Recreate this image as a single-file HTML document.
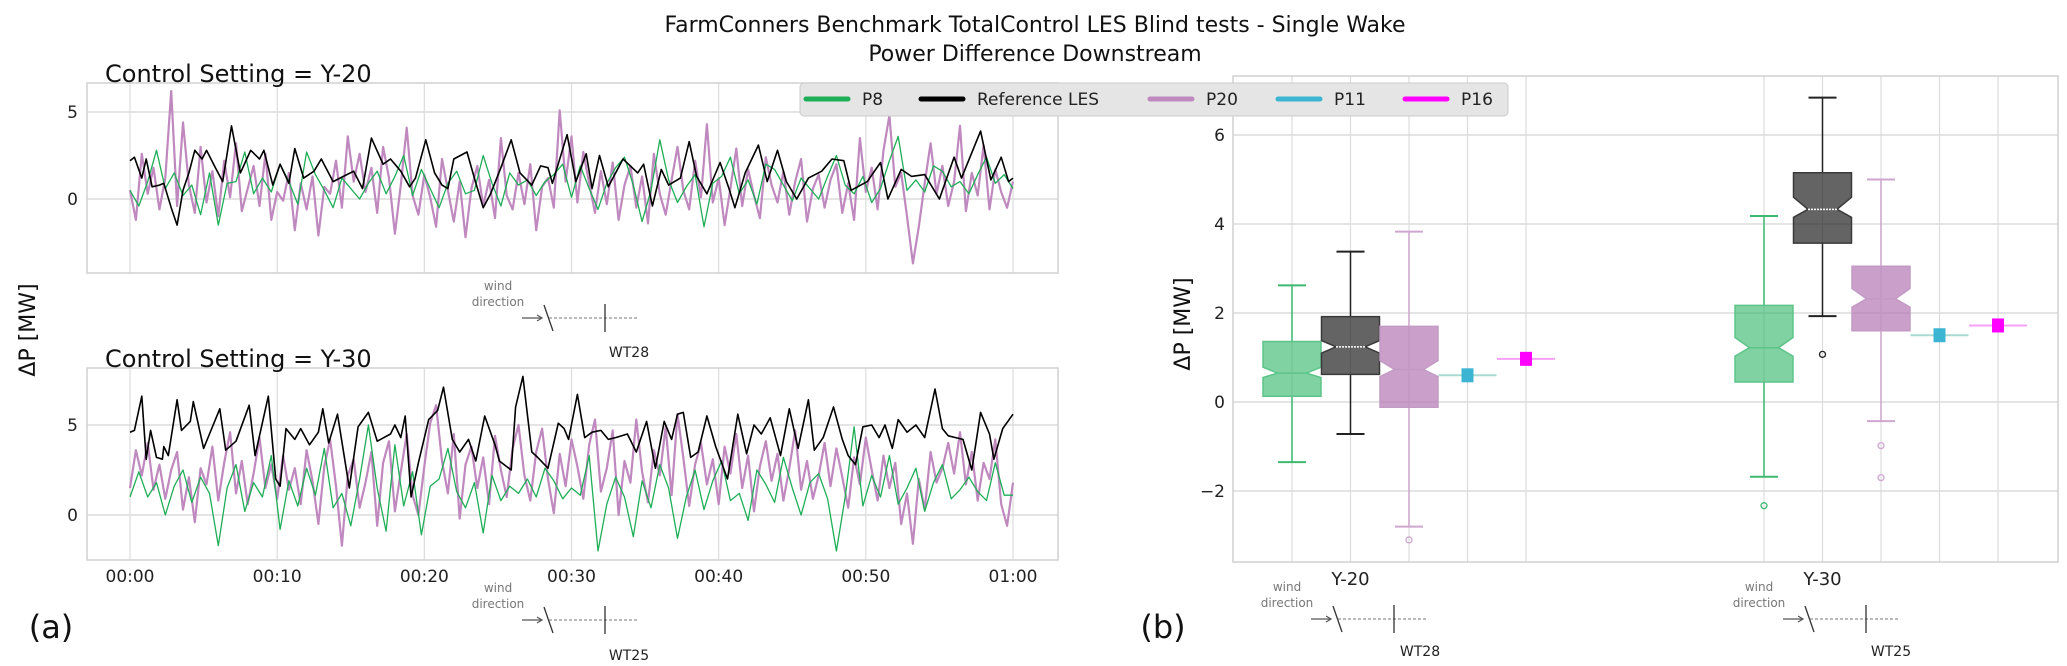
<!DOCTYPE html>
<html><head><meta charset="utf-8">
<style>
html,body{margin:0;padding:0;background:#fff;}
svg{display:block;font-family:"DejaVu Sans","Liberation Sans",sans-serif;}
</style></head>
<body>
<svg id="fig" width="2067" height="666" viewBox="0 0 2067 666" xmlns="http://www.w3.org/2000/svg">
<rect x="0" y="0" width="2067" height="666" fill="#fff"/>
<text x="1035" y="32" font-size="22" text-anchor="middle" fill="#111">FarmConners Benchmark TotalControl LES Blind tests - Single Wake</text>
<text x="1035" y="61" font-size="22" text-anchor="middle" fill="#111">Power Difference Downstream</text>
<g id="left-top"></g>
<g id="left-bot"></g>
<g id="right"></g>
<g id="legend"></g>
<g id="annot"></g>
</svg>
<script>
// ---------- data ----------
const timeTicks = ["00:00","00:10","00:20","00:30","00:40","00:50","01:00"];
const tickMinutes = [0,10,20,30,40,50,60];
const topYTicks = [0,5];
const botYTicks = [0,5];
const boxYTicks = [-2,0,2,4,6];
const boxGroups = ["Y-20","Y-30"];
const seriesNames = ["P8","Reference LES","P20","P11","P16"];

const refY20T = [0,0.3,0.8,1.1,1.5,2,2.3,2.8,3.2,3.6,4,4.4,4.9,5.2,5.8,6.3,6.9,7.5,8.2,8.8,9.1,9.7,10.2,10.8,11.2,11.8,12.5,13,13.8,14.5,15.2,15.8,16.4,17.2,17.7,18.4,19,19.4,20.1,20.7,21.2,21.6,22,22.9,23.4,24,24.5,25.2,25.9,26.5,27.3,27.9,28.4,28.7,29.7,30.3,31,31.4,31.9,32.5,33.5,34.5,34.9,35.5,36.1,36.6,37.4,38,38.5,39.2,40.1,40.7,41.1,41.8,42.7,43.3,44,44.6,45.3,46.1,47,47.7,48.5,49,50.1,51,51.5,52.4,53.1,54,55,56,56.5,57.8,58.5,59.2,59.7,60];
const refY20V = [2.2,2.4,1.2,2.3,0.7,0.8,0.9,-0.5,-1.5,0.5,1.5,2.8,2.3,2.8,1.8,1.0,4.2,1.5,2.8,2.3,2.8,0.8,2.0,0.9,2.9,1.2,1.6,2.3,1.0,1.3,1.6,0.6,3.5,2.0,2.3,1.6,0.7,1.2,3.4,1.5,0.8,0.6,2.3,2.7,1.2,-0.5,0.3,1.8,3.4,1.5,0.8,1.9,1.8,0.9,3.7,1.0,2.6,0.6,2.5,0.7,2.3,1.5,2.0,-0.4,1.7,0.8,1.2,3.3,1.3,0.3,2.1,0.6,-0.5,1.5,3.1,1.0,2.8,1.0,0.0,1.2,1.6,2.3,2.2,0.5,1.0,2.1,0.0,1.7,1.3,1.4,0.0,2.4,1.2,3.9,1.1,2.4,1.0,1.2];
const p8Y20 = [0.5,-0.4,1.0,2.8,0.6,1.5,0.2,0.8,-0.9,1.5,-1.5,0.9,1.0,2.7,0.3,1.2,0.4,2.0,1.0,-0.3,2.7,1.4,0.5,-0.5,1.2,0.6,0.0,0.9,1.6,0.3,1.3,2.5,0.2,1.7,0.6,-0.5,0.9,1.6,0.3,0.5,2.5,0.9,-0.4,1.5,0.8,1.1,0.2,1.0,1.4,2.0,0.1,1.9,0.6,-0.6,0.9,1.8,2.4,0.8,-1.3,0.5,3.4,1.1,-0.2,0.7,1.4,-1.6,0.9,1.3,2.4,0.3,1.1,-0.3,2.0,1.7,0.8,-0.1,1.2,0.6,0.0,1.3,2.5,0.8,0.3,1.3,-0.2,0.6,2.2,3.6,0.5,1.1,0.4,1.9,1.6,0.7,1.0,0.3,1.4,2.4,0.9,1.4,0.6];
const p20Y20 = [0.5,-1.2,2.6,0.3,1.8,-0.6,1.2,6.2,-0.4,4.4,
0.8,-0.8,3.0,-0.2,1.6,-1.0,2.2,0.1,3.2,-0.7,
0.6,1.9,-0.4,2.6,-1.2,0.4,-0.1,1.5,-1.8,0.9,
-0.6,1.3,-2.1,0.7,0.3,2.2,-0.5,3.6,1.0,2.6,
0.4,1.8,-0.8,3.0,1.2,-2.0,0.8,4.1,0.2,-0.9,
1.4,0.1,-1.6,2.3,0.5,-1.3,1.0,-2.2,0.6,1.9,
-0.4,1.1,-1.1,3.5,0.2,-0.6,1.5,-0.3,2.0,-1.8,
0.7,1.2,-0.5,5.1,1.0,3.6,-0.2,2.7,0.9,-0.8,
1.6,-0.3,2.1,-1.2,0.8,1.9,-0.5,1.3,-1.4,2.6,
0.3,-0.9,1.1,3.0,0.5,-0.6,2.2,0.1,4.3,-0.2,
1.2,-1.5,0.6,2.9,-0.4,1.7,0.2,-1.1,2.4,0.8,
-0.2,1.6,-0.9,1.0,2.3,-1.3,0.6,1.4,-0.5,1.1,
2.0,-0.8,0.9,-1.2,3.5,0.4,1.8,-0.6,2.8,4.8,
0.7,1.5,-1.0,-3.7,-1.6,0.9,3.2,0.3,1.9,-0.4,
1.0,4.2,-0.7,1.5,0.2,3.1,-0.6,1.7,0.4,-0.5,1.0];

const refY30T = [0,0.3,0.8,1.1,1.4,1.8,2.2,2.3,2.6,3.2,3.5,4.1,4.3,5.0,5.4,6.1,6.5,7.2,8.1,8.5,9.4,9.9,10.2,10.6,11.2,11.6,12.2,12.8,13.1,13.5,14.1,14.9,15.5,16.2,16.8,17.7,18.0,18.4,18.7,19.1,19.6,20.3,20.9,21.3,21.9,22.4,23.0,23.5,24.1,24.8,25.1,25.9,26.2,26.7,27.3,27.7,28.4,29.1,29.5,29.8,30.4,30.9,31.4,32.0,32.5,33.0,33.8,34.4,35.1,35.7,36.3,36.8,37.2,37.6,38.1,38.6,39.2,39.8,40.6,41.3,41.9,42.4,42.9,43.5,44.2,44.8,45.4,46.1,46.5,47.1,47.8,48.4,48.8,49.3,49.8,50.4,50.9,51.3,51.8,52.2,52.8,53.4,54.0,54.7,55.2,55.6,56.1,56.6,57.2,57.8,58.4,58.7,59.3,60];
const refY30V = [4.6,4.7,6.6,3.1,4.7,3.2,3.1,3.8,3.3,6.4,4.7,5.2,6.3,3.7,4.5,5.9,3.6,4.1,6.1,3.3,6.6,2.0,1.6,4.8,4.2,4.8,3.9,4.6,5.9,4.0,5.6,1.5,4.9,5.7,4.1,4.5,5.0,4.3,5.5,1.0,2.9,5.3,5.8,7.1,4.2,3.5,4.2,3.0,5.5,3.9,3.0,2.5,6.0,7.7,3.5,3.2,2.6,5.1,4.8,4.2,6.7,4.3,4.6,4.7,4.2,4.3,4.5,3.5,5.2,2.6,5.2,4.2,5.6,5.7,3.2,3.5,5.5,3.8,2.0,5.6,3.4,5.0,4.5,5.4,3.3,5.9,3.7,6.4,3.6,4.3,6.0,4.2,3.3,2.8,4.9,5.0,4.3,5.0,3.7,5.3,4.6,5.0,4.3,7.0,4.8,4.4,4.3,4.2,2.5,5.7,4.5,3.1,4.8,5.6];
const p8Y30 = [1.0,2.4,1.0,1.8,0.0,1.6,2.5,0.7,2.1,1.2,-1.7,1.5,2.8,0.2,1.8,1.0,3.3,-0.8,1.9,0.5,2.6,1.1,3.7,0.4,1.2,-0.6,2.0,5.0,1.5,-0.9,3.9,0.5,2.4,-1.1,1.6,2.0,3.7,1.3,0.4,1.8,-1.0,2.2,0.8,1.6,1.2,2.0,1.0,2.6,1.9,0.9,1.5,1.1,3.3,-2.0,0.6,2.1,1.0,-1.2,1.9,0.4,2.8,1.5,-1.3,1.0,2.5,0.3,1.9,3.0,0.8,1.2,-0.3,2.5,1.7,0.7,3.2,1.5,0.0,1.8,2.3,0.9,-2.0,1.0,4.9,0.5,2.2,1.0,3.3,0.6,1.5,2.6,0.2,1.8,2.8,0.9,1.4,2.1,1.3,0.8,2.9,1.1,1.1];
const p20Y30 = [1.5,3.6,2.2,4.0,1.4,2.8,0.9,2.5,3.5,0.3,
2.1,-0.4,2.6,1.7,3.8,0.8,2.9,4.6,1.2,3.0,
0.6,2.3,4.3,1.5,2.8,0.9,3.3,1.4,2.6,0.6,
3.6,1.9,-0.5,2.7,4.2,1.6,-1.7,2.2,3.1,0.4,
1.8,3.5,-0.6,2.9,4.1,0.2,2.4,4.5,1.1,0.0,
2.7,5.1,6.1,3.0,1.2,4.5,-0.2,2.8,3.8,1.5,
3.2,0.6,4.4,2.5,1.0,3.7,5.0,2.2,0.8,3.5,
4.8,2.0,0.1,3.4,1.6,4.2,2.7,0.9,3.9,5.3,
1.3,2.6,4.7,0.0,3.0,1.8,5.3,2.4,0.7,3.6,
2.2,4.9,1.1,5.6,3.2,0.5,2.8,4.0,1.7,3.1,
0.6,3.8,2.3,4.5,1.5,3.3,0.2,2.7,4.1,1.9,
3.4,0.8,2.6,4.7,1.4,3.0,0.9,2.2,4.0,1.6,
3.7,2.1,0.4,3.2,1.7,4.3,2.5,0.8,3.3,1.5,
2.9,-0.5,1.2,-1.6,2.0,0.3,3.5,1.8,2.6,4.0,
2.3,4.6,1.7,3.5,0.8,2.9,2.0,4.2,0.6,-0.6,1.8];

const boxWhiskLo  = [[-1.35,-0.72,-2.8],[-1.68,1.93,-0.43]];
const boxQ1       = [[0.13,0.62,-0.12],[0.45,3.57,1.6]];
const boxNotchLo  = [[0.55,1.1,0.57],[1.03,4.15,2.13]];
const boxMedian   = [[0.65,1.24,0.73],[1.22,4.33,2.32]];
const boxNotchHi  = [[0.78,1.38,0.93],[1.45,4.6,2.55]];
const boxQ3       = [[1.36,1.92,1.7],[2.17,5.15,3.05]];
const boxWhiskHi  = [[2.62,3.38,3.83],[4.18,6.84,5.0]];
const boxOutliers = [[[],[],[-3.1]],[[-2.33],[1.07],[-0.98,-1.7]]];
const pointP11 = [0.6,1.5];
const pointP16 = [0.97,1.72];

// ---------- drawing ----------
const NS="http://www.w3.org/2000/svg";
function mk(tag, attrs, parent){const e=document.createElementNS(NS,tag);for(const k in attrs)e.setAttribute(k,attrs[k]);if(parent)parent.appendChild(e);return e;}
const COL={p8:"#1eae57",ref:"#000",p20:"#bf88bf",p11:"#3cb5d2",p16:"#ff00ff"};

const LX0=87, LX1=1058;
const tx = t => 130 + t*(883/60);

function panel(g, top, bot, y0, scale, yTicks, showX){
  const yv = v => y0 - v*scale;
  for(const m of tickMinutes){
    const l=mk("line",{x1:tx(m),x2:tx(m),y1:top,y2:bot,stroke:"#dcdcdc","stroke-width":1.2},g);
    
    
  }
  for(const v of yTicks){
    const l=mk("line",{x1:LX0,x2:LX1,y1:yv(v),y2:yv(v),stroke:"#dcdcdc","stroke-width":1.5},g);
    
    
    const t=mk("text",{x:78,y:yv(v)+6,"font-size":17,"text-anchor":"end",fill:"#222"},g);
    t.textContent=v;
    
    
  }
  const fr=mk("rect",{x:LX0,y:top,width:LX1-LX0,height:bot-top,fill:"none",stroke:"#d0d0d0","stroke-width":1.5},g);
  
  
  if(showX){
    timeTicks.forEach((lab,i)=>{
      const t=mk("text",{x:tx(tickMinutes[i]),y:582,"font-size":17,"text-anchor":"middle",fill:"#222"},g);
      t.textContent=lab;
      
      
    });
  }
  return yv;
}
function lineUniform(g, vals, yv, color, w, name){
  const n=vals.length;
  const d=vals.map((v,i)=>(i?"L":"M")+tx(i*60/(n-1)).toFixed(1)+","+yv(v).toFixed(1)).join("");
  const p=mk("path",{d:d,fill:"none",stroke:color,"stroke-width":w,"stroke-linejoin":"round"},g);
  
  
}
function lineXY(g, ts, vals, yv, color, w, name){
  const d=vals.map((v,i)=>(i?"L":"M")+tx(ts[i]).toFixed(1)+","+yv(v).toFixed(1)).join("");
  const p=mk("path",{d:d,fill:"none",stroke:color,"stroke-width":w,"stroke-linejoin":"round"},g);
  
  
}

const gT=document.getElementById("left-top");
const yT=panel(gT,83,273,199,17.4,topYTicks,false);
lineUniform(gT,p20Y20,yT,COL.p20,2.2,"p20-line-y20");
lineUniform(gT,p8Y20,yT,COL.p8,1.3,"p8-line-y20");
lineXY(gT,refY20T,refY20V,yT,COL.ref,1.6,"reference-les-line-y20");
const gB=document.getElementById("left-bot");
const yB=panel(gB,368,560,515,18,botYTicks,true);
lineUniform(gB,p20Y30,yB,COL.p20,2.2,"p20-line-y30");
lineUniform(gB,p8Y30,yB,COL.p8,1.3,"p8-line-y30");
lineXY(gB,refY30T,refY30V,yB,COL.ref,1.6,"reference-les-line-y30");

const gR=document.getElementById("right");
const RX0=1233, RX1=2058, RT=76, RBt=562;
const yR = v => 402 - v*44.5;
const groupX0=[1292,1764], step=58.5, BW=58;
for(const v of boxYTicks){
  const l=mk("line",{x1:RX0,x2:RX1,y1:yR(v),y2:yR(v),stroke:"#dcdcdc","stroke-width":1.5},gR);
  
  
  const t=mk("text",{x:1225,y:yR(v)+6,"font-size":17,"text-anchor":"end",fill:"#222"},gR);
  t.textContent=(v<0?"\u2212"+(-v):v);
  
  
}
for(let gi=0;gi<2;gi++)for(let k=0;k<5;k++){
  const x=groupX0[gi]+k*step;
  const l=mk("line",{x1:x,x2:x,y1:RT,y2:RBt,stroke:"#dcdcdc","stroke-width":1.2},gR);
  
  
}
const rf=mk("rect",{x:RX0,y:RT,width:RX1-RX0,height:RBt-RT,fill:"none",stroke:"#d0d0d0","stroke-width":1.5},gR);


const boxFill=["rgba(44,180,100,0.6)","rgba(40,40,40,0.72)","rgba(180,120,180,0.7)"];
const boxEdge=["#5cc489","#3a3a3a","#c39ac3"];
const whiskCol=["#3cb96f","#222","#cfa6cf"];
const boxNames=["p8","reference-les","p20"];
for(let gi=0;gi<2;gi++){
  for(let k=0;k<3;k++){
    const c=groupX0[gi]+k*step, L=c-BW/2, R=c+BW/2, ni=BW/4;
    const q1=yR(boxQ1[gi][k]), q3=yR(boxQ3[gi][k]), nl=yR(boxNotchLo[gi][k]), nh=yR(boxNotchHi[gi][k]), md=yR(boxMedian[gi][k]);
    const wl=mk("line",{x1:c,x2:c,y1:yR(boxWhiskLo[gi][k]),y2:q1,stroke:whiskCol[k],"stroke-width":1.5},gR);
    
    
    const wh=mk("line",{x1:c,x2:c,y1:q3,y2:yR(boxWhiskHi[gi][k]),stroke:whiskCol[k],"stroke-width":1.5},gR);
    
    
    for(const v of [boxWhiskLo[gi][k],boxWhiskHi[gi][k]]){
      const cp=mk("line",{x1:c-14,x2:c+14,y1:yR(v),y2:yR(v),stroke:whiskCol[k],"stroke-width":2},gR);
      
      
    }
    const pts=[[L,q1],[R,q1],[R,nl],[R-ni,md],[R,nh],[R,q3],[L,q3],[L,nh],[L+ni,md],[L,nl]].map(p=>p[0].toFixed(1)+","+p[1].toFixed(1)).join(" ");
    const bx=mk("polygon",{points:pts,fill:boxFill[k],stroke:boxEdge[k],"stroke-width":1.5},gR);
    
    
    const ml=mk("line",{x1:L+ni,x2:R-ni,y1:md,y2:md,stroke:boxEdge[k]==="#3a3a3a"?"#fff":boxEdge[k],"stroke-width":1.5,"stroke-dasharray":k===1?"2,1":"none"},gR);
    
    
    for(const o of boxOutliers[gi][k]){
      const oc=mk("circle",{cx:c,cy:yR(o),r:3,fill:"none",stroke:whiskCol[k],"stroke-width":1.3},gR);
      
      
    }
  }
  const singles=[[pointP11[gi],COL.p11,"#a8dcd0","p11"],[pointP16[gi],COL.p16,"#f7a0f7","p16"]];
  singles.forEach((s,j)=>{
    const c=groupX0[gi]+(3+j)*step;
    const hl=mk("line",{x1:c-BW/2,x2:c+BW/2,y1:yR(s[0]),y2:yR(s[0]),stroke:s[2],"stroke-width":2},gR);
    
    
    const sq=mk("rect",{x:c-6,y:yR(s[0])-7,width:12,height:14,fill:s[1]},gR);
    
    
  });
  const gl=mk("text",{x:groupX0[gi]+step,y:585,"font-size":18,"text-anchor":"middle",fill:"#222"},gR);
  gl.textContent=boxGroups[gi];
  
  
}

const gL=document.getElementById("legend");
const lb=mk("rect",{x:800,y:83,width:708,height:33,rx:4,fill:"#e5e5e5",stroke:"#cccccc","stroke-width":1},gL);


const legX=[806,921,1150,1278,1405];
const legCol=[COL.p8,COL.ref,COL.p20,COL.p11,COL.p16];
seriesNames.forEach((nm,i)=>{
  const l=mk("line",{x1:legX[i],x2:legX[i]+42,y1:99,y2:99,stroke:legCol[i],"stroke-width":5,"stroke-linecap":"round"},gL);
  
  
  const t=mk("text",{x:legX[i]+56,y:105,"font-size":17,fill:"#222"},gL);
  t.textContent=nm;
  
  
});

const gA=document.getElementById("annot");
function txt(x,y,s,size,fill,anchor,name,rot){
  const a={x:x,y:y,"font-size":size,fill:fill,"text-anchor":anchor||"start"};
  if(rot)a.transform="rotate(-90 "+x+" "+y+")";
  const t=mk("text",a,gA);t.textContent=s;
  
  
  return t;
}
txt(105,82,"Control Setting = Y-20",24,"#111","start","panel-title-y20");
txt(105,367,"Control Setting = Y-30",24,"#111","start","panel-title-y30");
txt(35,330,"ΔP  [MW]",22,"#111","middle","left-y-axis-title",true);
txt(1190,324,"ΔP  [MW]",22,"#111","middle","right-y-axis-title",true);
txt(51,638,"(a)",32,"#111","middle","panel-label-a");
txt(1163,638,"(b)",32,"#111","middle","panel-label-b");
function wind(xc,yw,label,lx,ly,name){
  txt(xc-46,yw,"wind",12,"#777","middle",name+"-wind-text");
  txt(xc-46,yw+16,"direction",12,"#777","middle",name+"-direction-text");
  const ay=yw+28;
  const a=mk("line",{x1:xc-22,x2:xc-2,y1:ay,y2:ay,stroke:"#555","stroke-width":1.2},gA);
  
  
  const h=mk("path",{d:`M${xc-7},${ay-3}L${xc-2},${ay}L${xc-7},${ay+3}`,fill:"none",stroke:"#555","stroke-width":1.2},gA);
  
  
  const s=mk("line",{x1:xc,x2:xc+9,y1:ay-13,y2:ay+13,stroke:"#333","stroke-width":1.3},gA);
  
  
  const dl=mk("line",{x1:xc+5,x2:xc+94,y1:ay,y2:ay,stroke:"#777","stroke-width":1,"stroke-dasharray":"3,2"},gA);
  
  
  const v=mk("line",{x1:xc+61,x2:xc+61,y1:ay-14,y2:ay+14,stroke:"#333","stroke-width":1.3},gA);
  
  
  txt(lx,ly,label,14,"#222","middle",name+"-turbine-label");
}
wind(544,290,"WT28",629,357,"wind-diagram-y20-left");
wind(544,592,"WT25",629,660,"wind-diagram-y30-left");
wind(1333,591,"WT28",1420,656,"wind-diagram-y20-right");
wind(1805,591,"WT25",1891,656,"wind-diagram-y30-right");
</script>
</body></html>
